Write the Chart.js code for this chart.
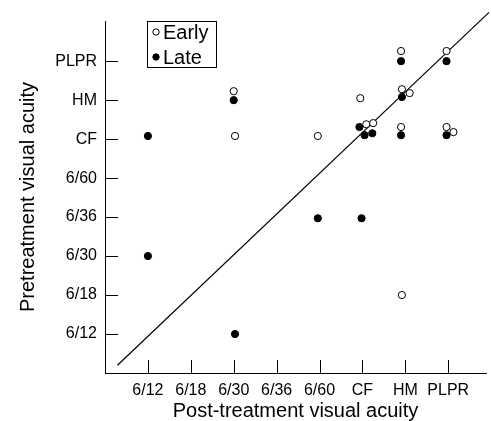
<!DOCTYPE html>
<html>
<head>
<meta charset="utf-8">
<script src="https://cdn.jsdelivr.net/npm/chart.js@4"></script>
<style>
  html, body { margin: 0; padding: 0; background: #fff; }
  #wrap { width: 491px; height: 421px; }
</style>
</head>
<body>
<div id="wrap"><canvas id="chart"></canvas></div>
<script>
/* acuity categories, same order on both axes (1 = 6/12 ... 8 = PLPR) */
const acuityLabels = ['6/12', '6/18', '6/30', '6/36', '6/60', 'CF', 'HM', 'PLPR'];

/* early series: post-treatment (x) and pretreatment (y) */
const earlyX = [3.0, 3.03, 6.9, 7.96, 6.92, 7.1, 5.95, 6.09, 6.25, 6.9, 7.96, 8.12, 4.96, 6.92];
const earlyY = [7.23, 6.08, 8.26, 8.26, 7.28, 7.18, 7.05, 6.38, 6.41, 6.31, 6.31, 6.18, 6.08, 2.0];

/* late series */
const lateX = [3.0, 1.0, 6.9, 7.96, 6.92, 5.93, 6.05, 6.23, 6.9, 7.96, 1.0, 3.03, 4.96, 5.98];
const lateY = [7.0, 6.08, 8.0, 8.0, 7.08, 6.31, 6.1, 6.15, 6.1, 6.1, 3.0, 1.0, 3.97, 3.97];

/* line of equality */
const refLineX = [0.29, 8.95];
const refLineY = [0.2, 9.25];

const FONT = 'Liberation Sans, Arial, Helvetica, sans-serif';

function zip(xs, ys) {
  return xs.map((x, i) => ({ x: x, y: ys[i] }));
}

/* -----------------------------
   inward tick marks
------------------------------ */
const insideTicks = {
  id: 'insideTicks',
  afterDraw(chart) {
    const { ctx, chartArea, scales } = chart;
    const len = 13;
    ctx.save();
    ctx.strokeStyle = '#000';
    ctx.lineWidth = 1;
    ctx.beginPath();
    scales.x.ticks.forEach(t => {
      const px = Math.round(scales.x.getPixelForValue(t.value)) + 0.5;
      ctx.moveTo(px, chartArea.bottom);
      ctx.lineTo(px, chartArea.bottom - len);
    });
    scales.y.ticks.forEach(t => {
      const py = Math.round(scales.y.getPixelForValue(t.value)) + 0.5;
      ctx.moveTo(chartArea.left, py);
      ctx.lineTo(chartArea.left + len, py);
    });
    ctx.stroke();
    ctx.restore();
  }
};

/* -----------------------------
   boxed legend, top left
------------------------------ */
const boxLegend = {
  id: 'boxLegend',
  afterDraw(chart) {
    const ctx = chart.ctx;
    const x0 = 147, y0 = 21, w = 69, h = 46;
    ctx.save();
    ctx.fillStyle = '#fff';
    ctx.fillRect(x0, y0, w, h);
    ctx.strokeStyle = '#000';
    ctx.lineWidth = 1;
    ctx.strokeRect(x0 + 0.5, y0 + 0.5, w, h);
    ctx.font = '20px ' + FONT;
    ctx.textBaseline = 'middle';
    [0, 1].forEach(i => {
      const ds = chart.data.datasets[i];
      const cy = y0 + 11 + i * 25;
      ctx.beginPath();
      ctx.arc(x0 + 9, cy, 3.2, 0, Math.PI * 2);
      ctx.fillStyle = ds.backgroundColor;
      ctx.fill();
      ctx.strokeStyle = '#000';
      ctx.stroke();
      ctx.fillStyle = '#000';
      ctx.fillText(ds.label, x0 + 16, cy + 1);
    });
    ctx.restore();
  }
};

const axisTicks = scale => {
  scale.ticks = acuityLabels.map((l, i) => ({ value: i + 1 }));
};
const tickLabel = v => acuityLabels[v - 1] || '';

new Chart(document.getElementById('chart'), {
  type: 'scatter',
  data: {
    datasets: [
      {
        label: 'Early',
        data: zip(earlyX, earlyY),
        backgroundColor: '#fff',
        borderColor: '#000',
        borderWidth: 1,
        pointRadius: 3.6
      },
      {
        label: 'Late',
        data: zip(lateX, lateY),
        backgroundColor: '#000',
        borderColor: '#000',
        borderWidth: 1,
        pointRadius: 3.6
      },
      {
        type: 'line',
        label: 'Equality',
        data: zip(refLineX, refLineY),
        borderColor: '#000',
        borderWidth: 1.2,
        pointRadius: 0,
        fill: false,
        clip: false
      }
    ]
  },
  options: {
    responsive: true,
    maintainAspectRatio: false,
    animation: false,
    events: [],
    layout: { padding: { top: 21, right: 1, left: 0, bottom: 0 } },
    plugins: {
      legend: { display: false },
      tooltip: { enabled: false }
    },
    scales: {
      x: {
        type: 'linear',
        min: 0,
        max: 8.88,
        afterBuildTicks: axisTicks,
        afterFit: s => { s.height = 48; },
        grid: { display: false, drawTicks: false },
        border: { display: true, color: '#000', width: 1 },
        ticks: {
          callback: tickLabel,
          color: '#000',
          padding: 8,
          maxRotation: 0,
          autoSkip: false,
          font: { family: FONT, size: 16 }
        },
        title: {
          display: true,
          text: 'Post-treatment visual acuity',
          color: '#000',
          padding: 0,
          font: { family: FONT, size: 20, lineHeight: 1 }
        }
      },
      y: {
        type: 'linear',
        min: 0,
        max: 9.03,
        afterBuildTicks: axisTicks,
        afterFit: s => { s.width = 105; },
        grid: { display: false, drawTicks: false },
        border: { display: true, color: '#000', width: 1 },
        ticks: {
          callback: tickLabel,
          color: '#000',
          padding: 8,
          autoSkip: false,
          font: { family: FONT, size: 16 }
        },
        title: {
          display: true,
          text: 'Pretreatment visual acuity',
          color: '#000',
          padding: { top: 18, bottom: 0 },
          font: { family: FONT, size: 20, lineHeight: 1 }
        }
      }
    }
  },
  plugins: [insideTicks, boxLegend]
});
</script>
</body>
</html>
